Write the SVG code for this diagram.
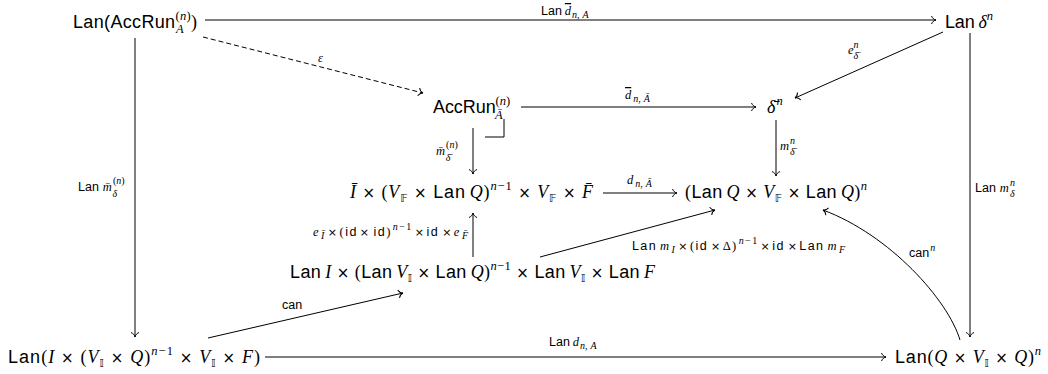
<svg xmlns="http://www.w3.org/2000/svg" width="1048" height="374" viewBox="0 0 1048 374">
<style>
text{fill:#000}
.n{font-size:18px}
.lb{font-size:12.5px}
.sf{font-family:"Liberation Sans",sans-serif}
.it{font-family:"Liberation Serif",serif;font-style:italic}
.rm{font-family:"Liberation Serif",serif}
.ov{text-decoration:overline}
.x{font-family:"DejaVu Sans",sans-serif;font-size:15px}
.lx{font-family:"DejaVu Sans",sans-serif;font-size:11px}
.bbs{font-family:"DejaVu Sans","DejaVu Serif",sans-serif;font-size:11px}
.sc{font-size:12.5px}
.lsc{font-size:10px}
.ar{fill:none;stroke:#000;stroke-width:1}
</style>
<defs>
<marker id="to" markerUnits="userSpaceOnUse" viewBox="-6 -5 7 10" markerWidth="7" markerHeight="10" refX="0" refY="0" orient="auto">
<path d="M-4.5,-4 C-3.5,-1.6 -1.6,-0.3 0,0 C-1.6,0.3 -3.5,1.6 -4.5,4" fill="none" stroke="#000" stroke-width="1"/>
</marker>
</defs>
<rect width="1048" height="374" fill="#fff"/>

<g id="connectors">
<path class="ar" d="M205,20 H936" marker-end="url(#to)"/>
<path class="ar" d="M135,38 V337" marker-end="url(#to)"/>
<path class="ar" d="M970,33 V337" marker-end="url(#to)"/>
<path class="ar" d="M265,357 H886" marker-end="url(#to)"/>
<path class="ar" d="M203,37 L423,93" stroke-dasharray="5,3" marker-end="url(#to)"/>
<path class="ar" d="M521,107 H756" marker-end="url(#to)"/>
<path class="ar" d="M943,32 L795,98" marker-end="url(#to)"/>
<path class="ar" d="M473,128 V174" marker-end="url(#to)"/>
<path class="ar" d="M485,137 H504 V119"/>
<path class="ar" d="M776,120 V176" marker-end="url(#to)"/>
<path class="ar" d="M603,193 H677" marker-end="url(#to)"/>
<path class="ar" d="M473,257 V213" marker-end="url(#to)"/>
<path class="ar" d="M540,257 L715,210" marker-end="url(#to)"/>
<path class="ar" d="M208,338 L403,293" marker-end="url(#to)"/>
<path class="ar" d="M960,340 C948,300 890,235 823,210" marker-end="url(#to)"/>

<text class="lb" x="541" y="15"><tspan class="sf">Lan</tspan><tspan class="it ov" dx="3">d</tspan><tspan class="it lsc" dx="1" dy="3">n</tspan><tspan class="rm lsc">,</tspan><tspan class="it lsc" dx="3">A</tspan></text>
<text class="lb it" x="318" y="62">ε</text>
<text class="lb" x="625" y="99"><tspan class="it ov">d</tspan><tspan class="it lsc" dx="2" dy="3">n</tspan><tspan class="rm lsc">,</tspan><tspan class="it lsc" dx="3">Ā</tspan></text>
<text class="lb" x="848" y="54"><tspan class="it">e</tspan><tspan class="it lsc" dy="-6">n</tspan><tspan class="it lsc" dx="-5" dy="11">δ̄</tspan></text>
<text class="lb" x="436" y="155"><tspan class="it">m̄</tspan><tspan class="rm lsc" dx="1" dy="-7">(</tspan><tspan class="it lsc">n</tspan><tspan class="rm lsc">)</tspan><tspan class="it lsc" dx="-12" dy="13">δ̄</tspan></text>
<text class="lb" x="780" y="150"><tspan class="it">m</tspan><tspan class="it lsc" dx="1" dy="-6">n</tspan><tspan class="it lsc" dx="-5" dy="11">δ̄</tspan></text>
<text class="lb" x="627" y="184"><tspan class="it">d</tspan><tspan class="it lsc" dx="2" dy="3">n</tspan><tspan class="rm lsc">,</tspan><tspan class="it lsc" dx="3">Ā</tspan></text>
<text class="lb" x="78" y="191"><tspan class="sf">Lan</tspan><tspan class="it" dx="4">m̄</tspan><tspan class="rm lsc" dx="1" dy="-7">(</tspan><tspan class="it lsc">n</tspan><tspan class="rm lsc">)</tspan><tspan class="it lsc" dx="-12" dy="13">δ</tspan></text>
<text class="lb" x="975" y="192"><tspan class="sf">Lan</tspan><tspan class="it" dx="4">m</tspan><tspan class="it lsc" dx="1" dy="-6">n</tspan><tspan class="it lsc" dx="-5" dy="11">δ</tspan></text>
<text class="lb" x="313" y="236" textLength="155"><tspan class="it">e</tspan><tspan class="it lsc" dx="1" dy="3">Ī</tspan><tspan class="lx" dx="2" dy="-3">×</tspan><tspan class="rm" dx="1">(</tspan><tspan class="sf">id</tspan><tspan class="lx" dx="2">×</tspan><tspan class="sf" dx="3">id</tspan><tspan class="rm">)</tspan><tspan class="it lsc" dx="1" dy="-6">n</tspan><tspan class="rm lsc">−1</tspan><tspan class="lx" dx="2" dy="6">×</tspan><tspan class="sf" dx="1">id</tspan><tspan class="lx" dx="3">×</tspan><tspan class="it" dx="1">e</tspan><tspan class="it lsc" dx="1" dy="3">F̄</tspan></text>
<text class="lb" x="632" y="250" textLength="213"><tspan class="sf">Lan</tspan><tspan class="it" dx="3">m</tspan><tspan class="it lsc" dx="1" dy="3">I</tspan><tspan class="lx" dx="2" dy="-3">×</tspan><tspan class="rm" dx="1">(</tspan><tspan class="sf">id</tspan><tspan class="lx" dx="3">×</tspan><tspan class="rm" dx="1">Δ)</tspan><tspan class="it lsc" dx="1" dy="-6">n</tspan><tspan class="rm lsc">−1</tspan><tspan class="lx" dx="2" dy="6">×</tspan><tspan class="sf" dx="1">id</tspan><tspan class="lx" dx="3">×</tspan><tspan class="sf" dx="1">Lan</tspan><tspan class="it" dx="3">m</tspan><tspan class="it lsc" dx="1" dy="3">F</tspan></text>
<text class="lb sf" x="282" y="309">can</text>
<text class="lb" x="909" y="257"><tspan class="sf">can</tspan><tspan class="it lsc" dx="1" dy="-6">n</tspan></text>
<text class="lb" x="549" y="346"><tspan class="sf">Lan</tspan><tspan class="it" dx="3">d</tspan><tspan class="it lsc" dx="1" dy="3">n</tspan><tspan class="rm lsc">,</tspan><tspan class="it lsc" dx="3">A</tspan></text>
</g>

<g id="node-lan-accrun"><text class="n" x="73" y="28" textLength="124"><tspan class="sf">Lan(AccRun</tspan><tspan class="rm sc" dy="-8">(</tspan><tspan class="it sc">n</tspan><tspan class="rm sc">)</tspan><tspan class="it sc" dx="-15" dy="13">A</tspan><tspan class="rm" dx="7" dy="-5">)</tspan></text></g>

<g id="node-lan-delta"><text class="n" x="945" y="28" textLength="48"><tspan class="sf">Lan</tspan><tspan class="it" dx="4">δ</tspan><tspan class="it sc" dy="-8">n</tspan></text></g>

<g id="node-accrun"><text class="n" x="433" y="113" textLength="77"><tspan class="sf">AccRun</tspan><tspan class="rm sc" dy="-8">(</tspan><tspan class="it sc">n</tspan><tspan class="rm sc">)</tspan><tspan class="it sc" dx="-15" dy="14">Ā</tspan></text></g>

<g id="node-deltabar"><text class="n" x="767" y="113"><tspan class="it">δ̄</tspan><tspan class="it sc" dx="1" dy="-8">n</tspan></text></g>

<g id="node-ibar"><text class="n" x="350" y="198" textLength="243"><tspan class="it">Ī</tspan><tspan class="x"> × </tspan><tspan class="rm">(</tspan><tspan class="it">V</tspan><tspan class="bbs" dy="4">𝔽</tspan><tspan class="x" dy="-4"> × </tspan><tspan class="sf">Lan</tspan><tspan class="it" dx="4">Q</tspan><tspan class="rm">)</tspan><tspan class="it sc" dy="-8">n</tspan><tspan class="rm sc">−1</tspan><tspan class="x" dy="8"> × </tspan><tspan class="it">V</tspan><tspan class="bbs" dy="4">𝔽</tspan><tspan class="x" dy="-4"> × </tspan><tspan class="it">F̄</tspan></text></g>

<g id="node-lanq"><text class="n" x="685" y="198" textLength="182"><tspan class="rm">(</tspan><tspan class="sf">Lan</tspan><tspan class="it" dx="4">Q</tspan><tspan class="x"> × </tspan><tspan class="it">V</tspan><tspan class="bbs" dy="4">𝔽</tspan><tspan class="x" dy="-4"> × </tspan><tspan class="sf">Lan</tspan><tspan class="it" dx="4">Q</tspan><tspan class="rm">)</tspan><tspan class="it sc" dy="-8">n</tspan></text></g>

<g id="node-lani"><text class="n" x="290" y="278" textLength="365"><tspan class="sf">Lan</tspan><tspan class="it" dx="4">I</tspan><tspan class="x"> × </tspan><tspan class="rm">(</tspan><tspan class="sf">Lan</tspan><tspan class="it" dx="4">V</tspan><tspan class="bbs" dy="4">𝕀</tspan><tspan class="x" dy="-4"> × </tspan><tspan class="sf">Lan</tspan><tspan class="it" dx="4">Q</tspan><tspan class="rm">)</tspan><tspan class="it sc" dy="-8">n</tspan><tspan class="rm sc">−1</tspan><tspan class="x" dy="8"> × </tspan><tspan class="sf">Lan</tspan><tspan class="it" dx="4">V</tspan><tspan class="bbs" dy="4">𝕀</tspan><tspan class="x" dy="-4"> × </tspan><tspan class="sf">Lan</tspan><tspan class="it" dx="4">F</tspan></text></g>

<g id="node-lan-i-prod"><text class="n" x="8" y="363" textLength="252"><tspan class="sf">Lan</tspan><tspan class="rm">(</tspan><tspan class="it">I</tspan><tspan class="x"> × </tspan><tspan class="rm">(</tspan><tspan class="it">V</tspan><tspan class="bbs" dy="4">𝕀</tspan><tspan class="x" dy="-4"> × </tspan><tspan class="it">Q</tspan><tspan class="rm">)</tspan><tspan class="it sc" dy="-8">n</tspan><tspan class="rm sc">−1</tspan><tspan class="x" dy="8"> × </tspan><tspan class="it">V</tspan><tspan class="bbs" dy="4">𝕀</tspan><tspan class="x" dy="-4"> × </tspan><tspan class="it">F</tspan><tspan class="rm">)</tspan></text></g>

<g id="node-lan-q-prod"><text class="n" x="895" y="363" textLength="146"><tspan class="sf">Lan</tspan><tspan class="rm">(</tspan><tspan class="it">Q</tspan><tspan class="x"> × </tspan><tspan class="it">V</tspan><tspan class="bbs" dy="4">𝕀</tspan><tspan class="x" dy="-4"> × </tspan><tspan class="it">Q</tspan><tspan class="rm">)</tspan><tspan class="it sc" dy="-8">n</tspan></text></g>
</svg>
